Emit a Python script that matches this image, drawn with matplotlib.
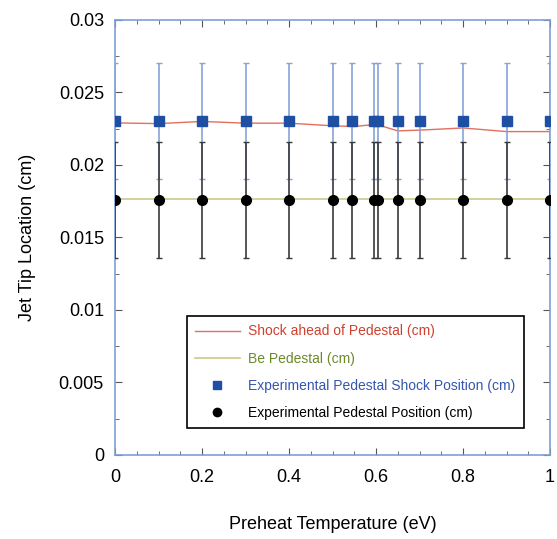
import matplotlib
matplotlib.use("Agg")
import matplotlib.pyplot as plt
from matplotlib.ticker import MultipleLocator
from matplotlib.lines import Line2D

plt.rcParams['font.family'] = ['Liberation Sans', 'DejaVu Sans']

# Data
preheat_exp = [0.0, 0.1, 0.2, 0.3, 0.4, 0.5, 0.545, 0.595, 0.605, 0.65, 0.7, 0.8, 0.9, 1.0]
shock_exp = [0.023] * len(preheat_exp)
shock_err = [0.004] * len(preheat_exp)
ped_exp = [0.0176] * len(preheat_exp)
ped_err = [0.004] * len(preheat_exp)

preheat_sim = [0.0, 0.1, 0.2, 0.3, 0.4, 0.5, 0.55, 0.6, 0.65, 0.7, 0.8, 0.9, 1.0]
shock_sim = [0.0229, 0.02285, 0.0230, 0.02288, 0.02288, 0.0227, 0.02265, 0.0228,
             0.02235, 0.0224, 0.02255, 0.0223, 0.0223]
ped_sim = [0.01765] * len(preheat_sim)

labels = ['Shock ahead of Pedestal (cm)', 'Be Pedestal (cm)',
          'Experimental Pedestal Shock Position (cm)', 'Experimental Pedestal Position (cm)']

fig = plt.figure(figsize=(5.57, 5.39), dpi=100)
ax = fig.add_axes([0.2065, 0.156, 0.781, 0.807])

l1, = ax.plot(preheat_sim, shock_sim, color='#e0705f', lw=1.0, zorder=2)
l2, = ax.plot(preheat_sim, ped_sim, color='#c9c98a', lw=1.2, zorder=2)

ax.errorbar(preheat_exp, shock_exp, yerr=shock_err, fmt='s', color='#1f4fa3', ms=7,
            ecolor='#86a3d8', elinewidth=1.2, capsize=2.5, capthick=1.0, zorder=3)
ax.errorbar(preheat_exp, ped_exp, yerr=ped_err, fmt='o', color='black', ms=7,
            ecolor='#3a3a3a', elinewidth=1.2, capsize=2.5, capthick=1.0, zorder=4)

h3 = Line2D([], [], ls='none', marker='s', color='#1f4fa3', ms=6)
h4 = Line2D([], [], ls='none', marker='o', color='black', ms=6)

ax.set_xlim(0, 1)
ax.set_ylim(0, 0.03)
ax.xaxis.set_major_locator(MultipleLocator(0.2))
ax.xaxis.set_minor_locator(MultipleLocator(0.05))
ax.yaxis.set_major_locator(MultipleLocator(0.005))
ax.yaxis.set_minor_locator(MultipleLocator(0.0025))
ax.xaxis.set_major_formatter(plt.FuncFormatter(lambda v, p: f"{v:g}"))
ax.yaxis.set_major_formatter(plt.FuncFormatter(lambda v, p: f"{v:g}"))

for s in ax.spines.values():
    s.set_color('#7f9fd6')
    s.set_linewidth(1.2)
ax.tick_params(which='both', direction='in', top=True, right=True, color='#555555', labelsize=13)
ax.tick_params(which='major', length=5)
ax.tick_params(which='minor', length=3)
ax.tick_params(axis='x', pad=10)
ax.tick_params(axis='y', pad=8)

ax.set_xlabel('Preheat Temperature (eV)', fontsize=13, labelpad=22)
ax.set_ylabel('Jet Tip Location (cm)', fontsize=13, labelpad=16)

leg = ax.legend([l1, l2, h3, h4], labels, loc='lower right', bbox_to_anchor=(0.955, 0.045),
                fontsize=10, frameon=True, fancybox=False, edgecolor='black', framealpha=1,
                handlelength=3.2, handletextpad=0.6, borderpad=0.6, labelspacing=0.95)
leg.get_frame().set_linewidth(1.2)
text_colors = ['#d0402f', '#6b8a2a', '#3555b0', 'black']
for t, c in zip(leg.get_texts(), text_colors):
    t.set_color(c)

fig.savefig('out.png', dpi=100)
